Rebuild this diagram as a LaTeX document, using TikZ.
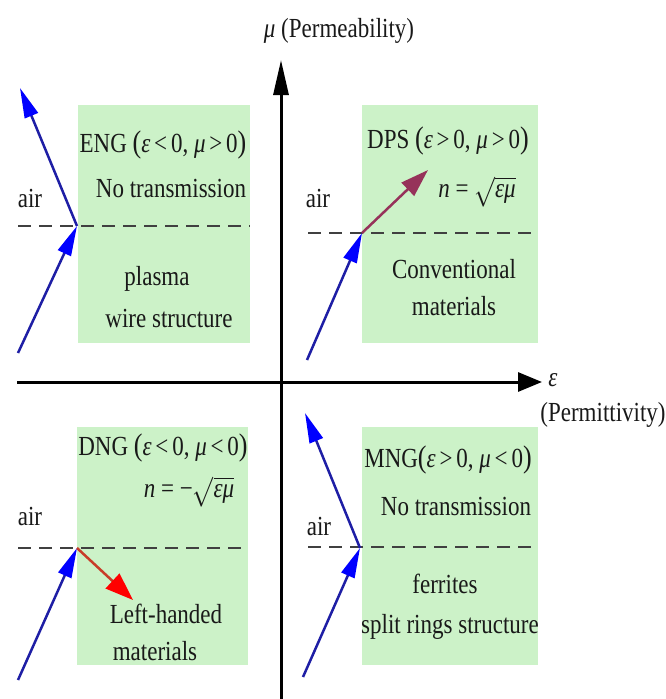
\documentclass[tikz,border=0pt]{standalone}
\usepackage{fontspec}
\setmainfont{Liberation Serif}
\usetikzlibrary{arrows.meta,positioning}
\definecolor{boxgreen}{RGB}{204,242,200}
\definecolor{raynavy}{RGB}{30,30,165}
\definecolor{raymaroon}{RGB}{150,50,90}
\definecolor{rayred}{RGB}{200,60,40}
\newcommand{\eps}{\textit{ε}}
\newcommand{\mup}{\textit{μ}}
\newcommand{\bigpar}[1]{{\fontsize{26}{26}\selectfont#1}}
\newcommand{\nsq}{$\sqrt{\mbox{\eps\mup}}$}
\newcommand{\tall}[1]{\scalebox{1}[1.2]{#1}}

\tikzset{
  matbox/.style={fill=boxgreen,minimum height=238pt,inner sep=0pt},
  lbl/.style={font=\fontsize{23}{26}\selectfont,inner sep=0pt,anchor=base,text=black!90},
  iface/.style={black!75,line width=2.5pt,dash pattern=on 13pt off 8pt},
  axis/.style={line width=3pt,-{Triangle[length=35pt,width=15pt]}},
  bluray/.style={raynavy,line width=2.5pt,-{Triangle[length=30pt,width=14pt,color=blue]}},
}

\begin{document}
\begin{tikzpicture}[x=1pt,y=-1pt]
\useasboundingbox (0,0) rectangle (665,699);
% material boxes
\node (eng) [matbox,minimum width=172pt] at (164,224) {};
\node (dps) [matbox,minimum width=176pt] at (450,224) {};
\node (dng) [matbox,minimum width=171pt] at (162.5,546) {};
\node (mng) [matbox,minimum width=176pt] at (450,546) {};

% axes
\coordinate (ybot) at (281,699);
\coordinate (ytop) at (281,60);
\coordinate (xleft) at (17,382);
\coordinate (xright) at (542,382);
\draw[axis] (ybot) -- (ytop);
\draw[axis,-{Triangle[length=24pt,width=19pt]}] (xleft) -- (xright);
\node (mulab) [lbl] at (339,37) {\tall{\mup\ (Permeability)}};
\node (eplab) [lbl] at (553,386) {\tall{\eps}};
\node (pelab) [lbl] at (603,421) {\tall{(Permittivity)}};

% interfaces
\draw[iface] (18,226) -- (eng.east |- 0,226);
\draw[iface] (308,233) -- (dps.east |- 0,233);
\draw[iface] (18,548) -- (dng.east |- 0,548);
\draw[iface] (308,547) -- (mng.east |- 0,547);

% ENG
\coordinate (engin) at (18,353);
\coordinate (enghit) at (77,226);
\coordinate (engout) at (20,88);
\draw[bluray] (engin) -- (enghit);
\draw[bluray] (enghit) -- (engout);
\node (engair) [lbl] at (30,207) {\tall{air}};
\node (engt) [lbl] at (163,152) {\tall{ENG \bigpar{(}\eps\,<\,0, \mup\,>\,0\bigpar{)}}};
\node (engn) [lbl] at (171,197) {\tall{No transmission}};
\node (enga) [lbl] at (157,285) {\tall{plasma}};
\node (engb) [lbl] at (169,327) {\tall{wire structure}};

% DPS
\coordinate (dpsin) at (307,360);
\coordinate (dpshit) at (362,233);
\coordinate (dpsout) at (428,170);
\draw[bluray] (dpsin) -- (dpshit);
\draw[raymaroon,line width=2.5pt,-{Triangle[length=28pt,width=18pt]}] (dpshit) -- (dpsout);
\node (dpsair) [lbl] at (318,207) {\tall{air}};
\node (dpst) [lbl] at (448,148) {\tall{DPS \bigpar{(}\eps\,>\,0, \mup\,>\,0\bigpar{)}}};
\node (dpsn) [lbl] at (477,197) {\tall{\textit{n} = \nsq}};
\node (dpsa) [lbl] at (454,278) {\tall{Conventional}};
\node (dpsb) [lbl] at (454,315) {\tall{materials}};

% DNG
\coordinate (dngin) at (18,680);
\coordinate (dnghit) at (77,548);
\coordinate (dngout) at (133,600);
\draw[bluray] (dngin) -- (dnghit);
\draw[rayred,line width=2.5pt,-{Triangle[length=28pt,width=20pt,color=red]}] (dnghit) -- (dngout);
\node (dngair) [lbl] at (30,525) {\tall{air}};
\node (dngt) [lbl] at (163,455) {\tall{DNG \bigpar{(}\eps\,<\,0, \mup\,<\,0\bigpar{)}}};
\node (dngn) [lbl] at (189,497) {\tall{\textit{n} = −\nsq}};
\node (dnga) [lbl] at (166,623) {\tall{Left-handed}};
\node (dngb) [lbl] at (155,660) {\tall{materials}};

% MNG
\coordinate (mngin) at (303,677);
\coordinate (mnghit) at (360,548);
\coordinate (mngout) at (305,413);
\draw[bluray] (mngin) -- (mnghit);
\draw[bluray] (mnghit) -- (mngout);
\node (mngair) [lbl] at (319,535) {\tall{air}};
\node (mngt) [lbl] at (448,467) {\tall{MNG\bigpar{(}\eps\,>\,0, \mup\,<\,0\bigpar{)}}};
\node (mngn) [lbl] at (456,515) {\tall{No transmission}};
\node (mnga) [lbl] at (445,593) {\tall{ferrites}};
\node (mngb) [lbl] at (450,633) {\tall{split rings structure}};
\end{tikzpicture}
\end{document}
